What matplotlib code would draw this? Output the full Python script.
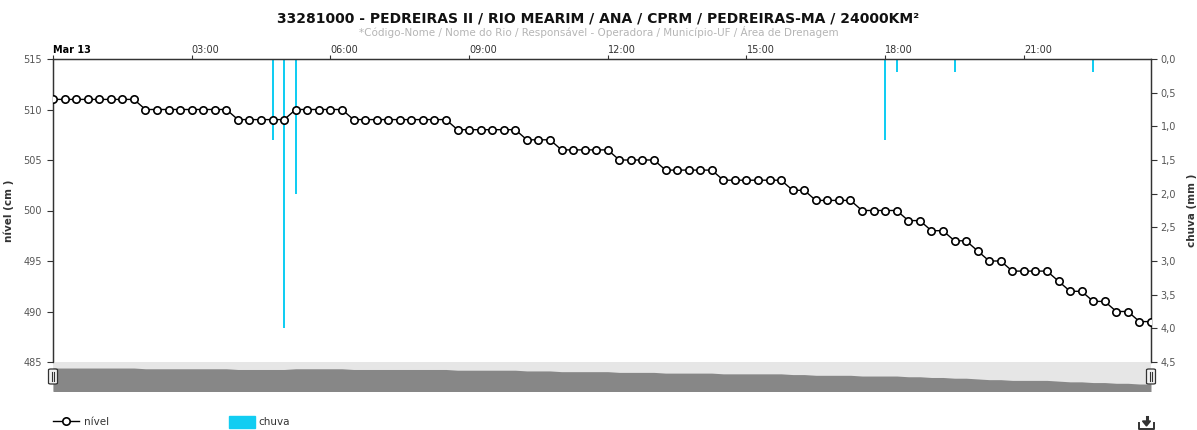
import numpy as np
import pandas as pd
import matplotlib
matplotlib.use("Agg")
import matplotlib.pyplot as plt
import matplotlib.dates as mdates
from matplotlib.lines import Line2D
from matplotlib.patches import Patch, FancyBboxPatch, Polygon
from matplotlib.ticker import FuncFormatter

plt.rcParams['font.family'] = ['DejaVu Sans']

# leituras de 15 em 15 minutos, 13 de marco
times = pd.date_range("2024-03-13 00:00", periods=96, freq="15min")

# nivel (cm)
nivel = ([511] * 8 + [510] * 8 + [509] * 5 + [510] * 5 + [509] * 9 +
         [508] * 6 + [507] * 3 + [506] * 5 + [505] * 4 + [504] * 5 +
         [503] * 6 + [502] * 2 + [501] * 4 + [500] * 4 + [499] * 2 +
         [498] * 2 + [497] * 2 + [496] * 1 + [495] * 2 + [494] * 4 +
         [493] * 1 + [492] * 2 + [491] * 2 + [490] * 2 + [489] * 2)

# chuva (mm), so os horarios com registro
chuva_horas = ["04:45", "05:00", "05:15", "18:00", "18:15", "19:30", "22:30"]
chuva_mm = [1.2, 4.0, 2.0, 1.2, 0.2, 0.2, 0.2]
chuva_times = pd.to_datetime(["2024-03-13 " + h for h in chuva_horas])

tick_horas = ["00:00", "03:00", "06:00", "09:00", "12:00", "15:00", "18:00", "21:00"]
tick_labels = ["Mar 13"] + tick_horas[1:]
tick_times = pd.to_datetime(["2024-03-13 " + h for h in tick_horas])

title = "33281000 - PEDREIRAS II / RIO MEARIM / ANA / CPRM / PEDREIRAS-MA / 24000KM²"
subtitle = "*Código-Nome / Nome do Rio / Responsável - Operadora / Município-UF / Área de Drenagem"

W, H = 1197, 430
fig = plt.figure(figsize=(W / 100, H / 100), dpi=100)

def fx(px):
    return px / W

def fy(py):
    return 1 - py / H

AX_L, AX_R, AX_T, AX_B = 53, 1151, 59, 362
ax = fig.add_axes([fx(AX_L), fy(AX_B), fx(AX_R - AX_L), (AX_B - AX_T) / H])
ax2 = ax.twinx()
ax.set_zorder(ax2.get_zorder() + 1)
ax.patch.set_visible(False)

CHUVA_COR = "#12cdf2"
ax2.bar(chuva_times, chuva_mm, width=2.0 / (46.3 * 24), color=CHUVA_COR, zorder=2)
ax2.set_ylim(4.5, 0)
ax2.set_yticks(np.arange(0, 4.51, 0.5))
ax2.yaxis.set_major_formatter(FuncFormatter(lambda v, p: f"{v:.1f}".replace(".", ",")))
ax2.tick_params(axis="y", labelsize=7, colors="#333333", labelcolor="#555555",
                length=4, width=0.8, pad=3)
ax2.set_ylabel("chuva (mm )", fontsize=7.5, fontweight="bold", color="#333333")
ax2.yaxis.set_label_coords((1187 - AX_L) / (AX_R - AX_L), 0.5)

ax.plot(times, nivel, color="black", lw=1.0, marker="o", ms=5.3, mfc="white",
        mec="black", mew=1.2, zorder=3)
ax.set_ylim(485, 515)
ax.set_yticks(np.arange(485, 516, 5))
ax.tick_params(axis="y", labelsize=7, colors="#333333", labelcolor="#555555",
               length=4, width=0.8, pad=4)
ax.set_ylabel("nível (cm )", fontsize=7.5, fontweight="bold", color="#333333")
ax.yaxis.set_label_coords((14 - AX_L) / (AX_R - AX_L), 0.5)

ax.set_xlim(times[0], times[-1])
ax2.set_xlim(times[0], times[-1])
ax.xaxis.tick_top()
ax.set_xticks(tick_times, tick_labels)
ax.xaxis.set_minor_locator(mdates.HourLocator())
ax.tick_params(axis="x", which="major", labelsize=7, colors="#333333",
               labelcolor="#333333", length=3, width=0.8, pad=0)
ax.tick_params(axis="x", which="minor", length=0)
for lab in ax.get_xticklabels():
    lab.set_ha("left")
ax.get_xticklabels()[0].set_fontweight("bold")
ax.get_xticklabels()[0].set_color("black")
ax2.grid(axis="x", which="both", color="#f0f0f0", lw=0.8, zorder=0)
ax2.xaxis.set_minor_locator(mdates.HourLocator())
ax2.tick_params(axis="x", which="both", length=0, labelbottom=False)

for a in (ax, ax2):
    a.spines["bottom"].set_visible(False)
    for s in ("top", "left", "right"):
        a.spines[s].set_color("#333333")
        a.spines[s].set_linewidth(0.9)

# navegador
NAV_T, NAV_B = 362, 391
nav = fig.add_axes([fx(AX_L), fy(NAV_B), fx(AX_R - AX_L), (NAV_B - NAV_T) / H])
nav.set_facecolor("#e6e6e6")
nav.fill_between(times, nivel, 470, color="#878787", lw=0)
nav.set_xlim(times[0], times[-1])
nav.set_ylim(479.4, 519.3)
nav.set_xticks([])
nav.set_yticks([])
for s in nav.spines.values():
    s.set_visible(False)

for hx in (AX_L, AX_R):
    fig.add_artist(FancyBboxPatch((fx(hx - 4.5), fy(384)), fx(9), 15 / H,
                                  boxstyle="round,pad=0,rounding_size=0.002",
                                  fc="#f2f2f2", ec="#333333", lw=0.9,
                                  transform=fig.transFigure, zorder=5))
    for dx in (-1.3, 1.3):
        fig.add_artist(Line2D([fx(hx + dx)] * 2, [fy(381), fy(372)],
                              color="#333333", lw=0.8, transform=fig.transFigure,
                              zorder=6))

fig.text(0.5, fy(18), title, ha="center", va="center", fontsize=10,
         fontweight="bold", color="#111111")
fig.text(0.5, fy(32), subtitle, ha="center", va="center", fontsize=7.5,
         color="#b5b5b5")

handles = [Line2D([], [], color="black", lw=1.0, marker="o", ms=5.3, mfc="white",
                  mec="black", mew=1.2),
           Patch(color=CHUVA_COR)]
fig.legend(handles, ["nível", "chuva"], loc="center left",
           bbox_to_anchor=(fx(44), fy(422)), ncol=2, frameon=False,
           fontsize=7.5, handlelength=2.5, handleheight=1.3, handletextpad=0.4,
           columnspacing=11.5, labelcolor="#333333")

# icone de download
ic = "#333333"
fig.add_artist(Line2D([fx(1139), fx(1139), fx(1154), fx(1154)],
                      [fy(423), fy(428.5), fy(428.5), fy(423)],
                      color=ic, lw=1.4, transform=fig.transFigure))
fig.add_artist(Line2D([fx(1146.5)] * 2, [fy(417), fy(422)], color=ic, lw=2.2,
                      transform=fig.transFigure))
fig.add_artist(Polygon([(fx(1142.5), fy(421)), (fx(1150.5), fy(421)),
                        (fx(1146.5), fy(426))], closed=True, fc=ic, ec=ic,
                       transform=fig.transFigure))

fig.savefig("out.png", dpi=100)
